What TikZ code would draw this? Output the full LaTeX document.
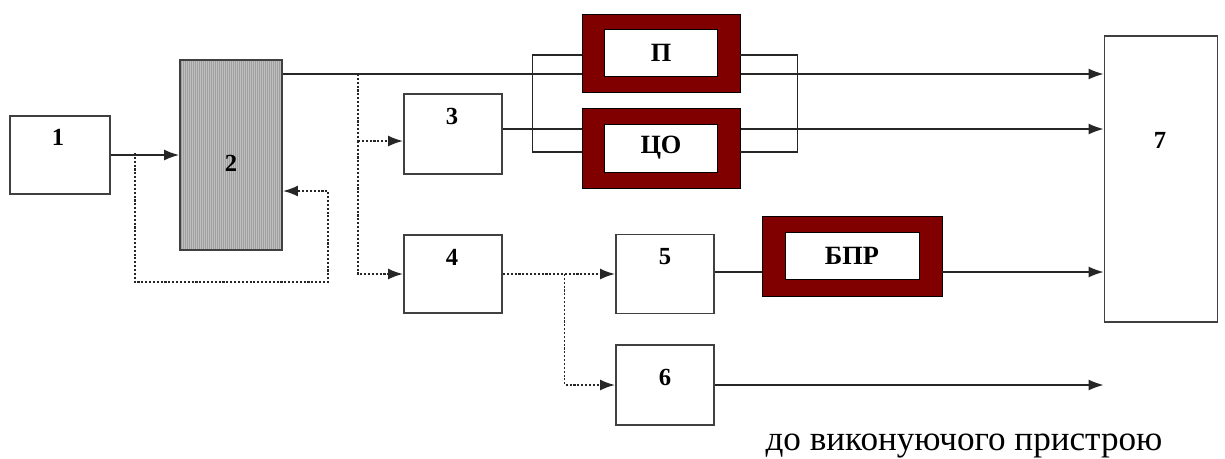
\documentclass[tikz,border=0pt]{standalone}
\usepackage{fontspec}
\setmainfont{LiberationSerif}[Extension=.ttf,UprightFont=*-Regular,BoldFont=*-Bold]
\usetikzlibrary{arrows.meta,calc}
\definecolor{frameRed}{RGB}{128,0,0}

\begin{document}
\begin{tikzpicture}[x=0.02cm,y=-0.02cm,
  box/.style={draw=black!75,line width=1.1pt,inner sep=0pt},
  frame/.style={draw=black,fill=frameRed,inner sep=0pt},
  win/.style={draw=black,fill=white,inner sep=0pt,font=\fontsize{15}{18}\selectfont\bfseries},
  num/.style={font=\fontsize{14}{17}\selectfont\bfseries},
  wire/.style={draw=black!85,line width=0.8pt},
  arr/.style={wire,-{Latex[length=0.3cm,width=0.22cm]}},
  dot/.style={wire,line width=1pt,dash pattern=on 1.2pt off 1pt}]
  \useasboundingbox (0,0) rectangle (1225,458);

  \node[box,minimum width=2cm,minimum height=1.56cm] (b1) at (60,155) {};
  \node[box,minimum width=2.04cm,minimum height=3.8cm,fill=gray!50] (b2) at (231,155) {};
  \foreach \i in {2,4,...,100}
    \draw[gray!75,line width=0.35pt] ([xshift=\i*0.02cm]b2.north west) -- ([xshift=\i*0.02cm]b2.south west);
  \node[box,minimum width=2.04cm,minimum height=3.8cm] (b2x) at (231,155) {};
  \node[box,minimum width=1.96cm,minimum height=1.6cm] (b3) at (453,134) {};
  \node[box,minimum width=1.96cm,minimum height=1.56cm] (b4) at (453,274) {};
  \node[box,minimum width=1.96cm,minimum height=1.58cm] (b5) at (665,274) {};
  \node[box,minimum width=1.96cm,minimum height=1.6cm] (b6) at (665,385) {};
  \node[box,minimum width=2.26cm,minimum height=5.72cm] (b7) at (1161,179) {};

  \node[num] (n1) at (58,137) {1};
  \node[num] (n2) at (231,163) {2};
  \node[num] (n3) at (452,116) {3};
  \node[num] (n4) at (452,257) {4};
  \node[num] (n5) at (665,257) {5};
  \node[num] (n6) at (665,377) {6};
  \node[num] (n7) at (1160,140) {7};

  \coordinate (lvlA) at (0,74);
  \coordinate (lvlB) at (0,129);
  \coordinate (lvlC) at (0,272);
  \coordinate (tapA) at (358,74);
  \coordinate (tapB) at (358,141);
  \coordinate (tapD) at (135,153);
  \coordinate (fbA) at (135,282);
  \coordinate (fbB) at (328,191);

  \draw[arr] (b1.east) -- (b2.west);
  \draw[dot,-{Latex[length=0.3cm,width=0.22cm]}] (tapD) -- (fbA) -| (fbB) -- (b2.east |- fbB);
  \draw[arr] (b2.east |- lvlA) -- (b7.west |- lvlA);
  \draw[arr] (b3.east |- lvlB) -- (b7.west |- lvlB);
  \draw[dot] (tapA) -- (tapB);
  \draw[dot,-{Latex[length=0.3cm,width=0.22cm]}] (tapB) -- (b3.west |- tapB);
  \draw[dot,-{Latex[length=0.3cm,width=0.22cm]}] (tapB) |- (b4.west);
  \draw[dot,-{Latex[length=0.3cm,width=0.22cm]}] (b4.east) -- (b5.west);
  \coordinate (tapC) at ($(b4.east)!0.55!(b5.west)$);
  \draw[dot,-{Latex[length=0.3cm,width=0.22cm]}] (tapC) |- (b6.west);
  \draw[arr] (b6.east) -- (b7.west |- b6.east);

  \node[frame,minimum width=3.16cm,minimum height=1.56cm] (pf) at (661,53) {};
  \node[win,minimum width=2.26cm,minimum height=0.94cm] (p) at (661,53) {П};
  \node[frame,minimum width=3.16cm,minimum height=1.6cm] (cf) at (661,148) {};
  \node[win,minimum width=2.26cm,minimum height=0.96cm] (c) at (661,148) {ЦО};
  \node[frame,minimum width=3.6cm,minimum height=1.6cm] (bf) at (852,256) {};
  \node[win,minimum width=2.68cm,minimum height=0.94cm] (bp) at (852,256) {БПР};

  \draw[wire] ([yshift=-0.04cm]pf.west) -- ++(-49,0) |- ([yshift=-0.08cm]cf.west);
  \draw[wire] ([yshift=-0.04cm]pf.east) -- ++(57,0) |- ([yshift=-0.08cm]cf.east);
  \draw[wire] (b5.east |- lvlC) -- (bf.west |- lvlC);
  \draw[arr] (bf.east |- lvlC) -- (b7.west |- lvlC);

  \node (dst) at (964,446) {\fontsize{20}{24}\selectfont до виконуючого пристрою};
\end{tikzpicture}
\end{document}
